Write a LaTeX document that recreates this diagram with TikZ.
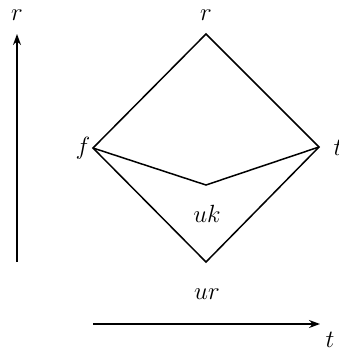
\documentclass[tikz,border=0pt]{standalone}
\usetikzlibrary{arrows.meta}
\begin{document}
\begin{tikzpicture}[x=1pt,y=-1pt,
  edge/.style={line width=1.5pt,line join=miter},
  axis/.style={line width=1.5pt,-{Stealth[length=11pt,width=8pt]}},
  lbl/.style={inner sep=0pt,font=\fontsize{27}{32}\selectfont}]
\useasboundingbox (0,0) rectangle (339,356);
\coordinate (R) at (206,34);
\coordinate (F) at (93,148);
\coordinate (T) at (319,147);
\coordinate (B) at (206,262);
\coordinate (K) at (206,185);
\draw[edge] (R) -- (T) -- (B) -- (F) -- cycle;
\draw[edge] (F) -- (K) -- (T);
\node[lbl] (lr) at (206,15) {$r$};
\node[lbl] (lf) at (83,148) {$f$};
\node[lbl] (lt) at (338,148) {$t$};
\node[lbl] (luk) at (207,214) {$uk$};
\node[lbl] (lur) at (207,294) {$ur$};
\coordinate (a1) at (17,262);
\coordinate (a2) at (17,34);
\draw[axis] (a1) -- (a2);
\node[lbl] (ar) at (17,15) {$r$};
\coordinate (b1) at (93,324);
\coordinate (b2) at (320,324);
\draw[axis] (b1) -- (b2);
\node[lbl] (bt) at (330,340) {$t$};
\end{tikzpicture}
\end{document}
